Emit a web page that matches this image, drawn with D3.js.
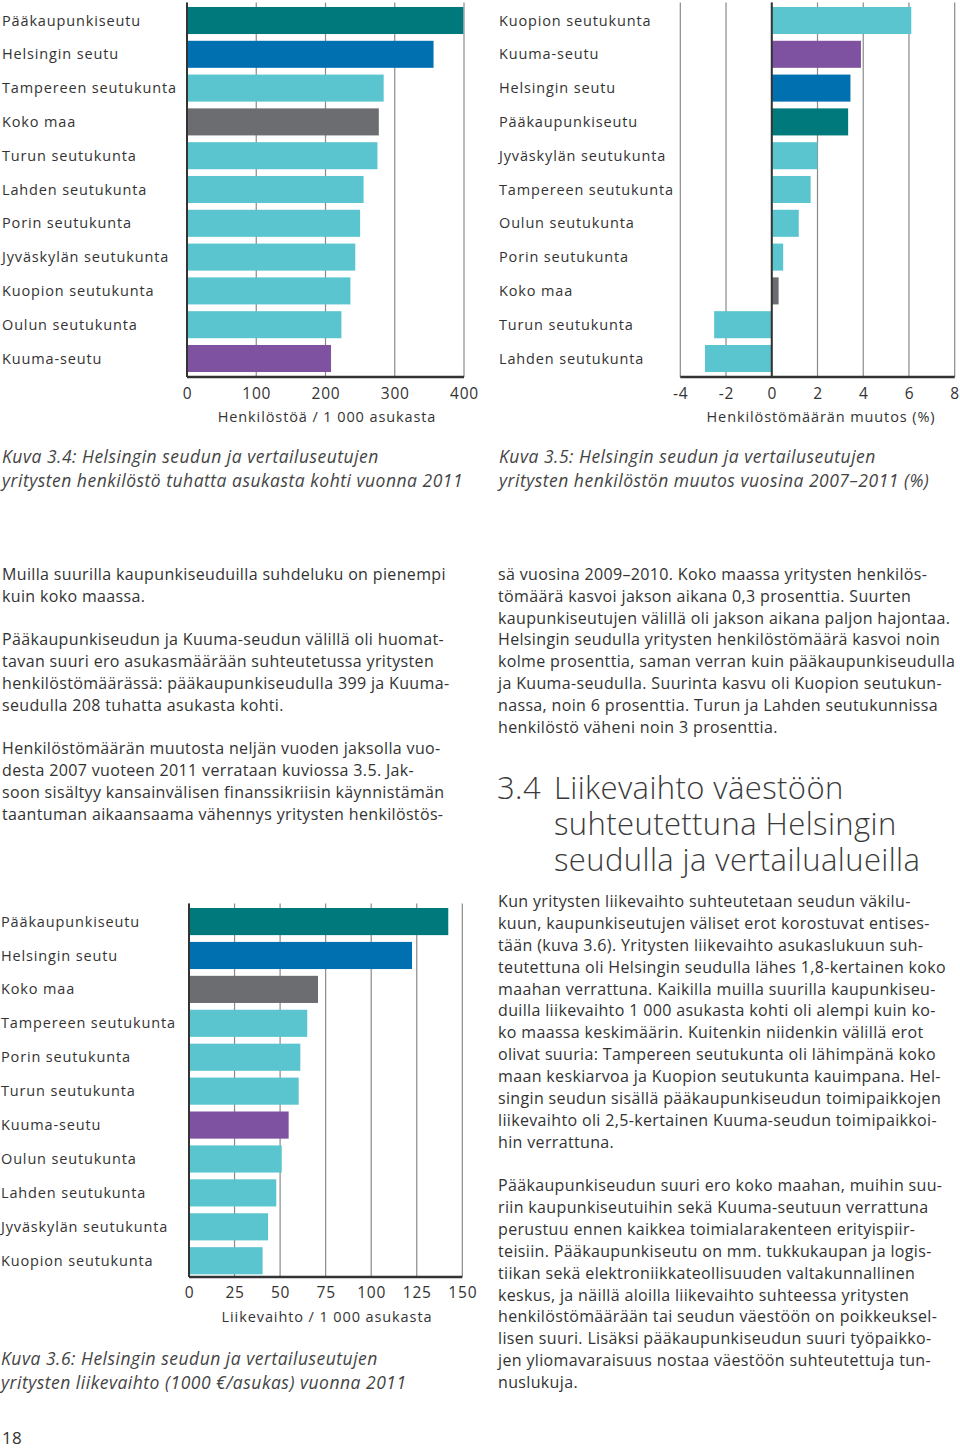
<!DOCTYPE html>
<html><head><meta charset="utf-8">
<script src="https://cdn.jsdelivr.net/npm/d3@7"></script>
<style>
body{margin:0;background:#fff;}
svg{display:block;}
text{font-family:"Open Sans",sans-serif;fill:#333;}
.lbl{font-size:14.5px;letter-spacing:0.85px;}
.tick{font-size:15.5px;letter-spacing:0.8px;}
.ttl{font-size:14.5px;letter-spacing:0.9px;}
.cap{font-size:17.5px;font-style:italic;letter-spacing:0.5px;fill:#444;}
.body{font-size:16px;letter-spacing:0.35px;}
.head{font-size:31px;font-weight:300;fill:#3a3a3a;letter-spacing:0.4px;}
</style></head>
<body>
<script>
// ---------- DATA ----------
const colors = {capital:"#00797c", helsinki:"#0070b0", other:"#5ac5ce", country:"#6c6d70", kuuma:"#7e52a0"};

// Kuva 3.4
const c1Categories = ["Pääkaupunkiseutu","Helsingin seutu","Tampereen seutukunta","Koko maa","Turun seutukunta","Lahden seutukunta","Porin seutukunta","Jyväskylän seutukunta","Kuopion seutukunta","Oulun seutukunta","Kuuma-seutu"];
const c1Values = [399,356,284,277,275,255,250,243,236,223,208];
const c1Ticks = [0,100,200,300,400];
const c1Title = "Henkilöstöä / 1 000 asukasta";

// Kuva 3.5
const c2Categories = ["Kuopion seutukunta","Kuuma-seutu","Helsingin seutu","Pääkaupunkiseutu","Jyväskylän seutukunta","Tampereen seutukunta","Oulun seutukunta","Porin seutukunta","Koko maa","Turun seutukunta","Lahden seutukunta"];
const c2Values = [6.1,3.9,3.44,3.34,2.0,1.7,1.18,0.5,0.3,-2.52,-2.92];
const c2Ticks = [-4,-2,0,2,4,6,8];
const c2Title = "Henkilöstömäärän muutos (%)";

// Kuva 3.6
const c3Categories = ["Pääkaupunkiseutu","Helsingin seutu","Koko maa","Tampereen seutukunta","Porin seutukunta","Turun seutukunta","Kuuma-seutu","Oulun seutukunta","Lahden seutukunta","Jyväskylän seutukunta","Kuopion seutukunta"];
const c3Values = [142.3,122.4,70.8,64.9,61.1,60.2,54.7,50.9,47.9,43.4,40.4];
const c3Ticks = [0,25,50,75,100,125,150];
const c3Title = "Liikevaihto / 1 000 asukasta";

const colorOf = name => name==="Pääkaupunkiseutu"?colors.capital:name==="Helsingin seutu"?colors.helsinki:name==="Koko maa"?colors.country:name==="Kuuma-seutu"?colors.kuuma:colors.other;

const captions = {
  c1:["Kuva 3.4: Helsingin seudun ja vertailuseutujen","yritysten henkilöstö tuhatta asukasta kohti vuonna 2011"],
  c2:["Kuva 3.5: Helsingin seudun ja vertailuseutujen","yritysten henkilöstön muutos vuosina 2007–2011 (%)"],
  c3:["Kuva 3.6: Helsingin seudun ja vertailuseutujen","yritysten liikevaihto (1000 €/asukas) vuonna 2011"]
};

const leftText = [
 [575,"Muilla suurilla kaupunkiseuduilla suhdeluku on pienempi"],
 [597,"kuin koko maassa."],
 [640,"Pääkaupunkiseudun ja Kuuma-seudun välillä oli huomat-"],
 [662,"tavan suuri ero asukasmäärään suhteutetussa yritysten"],
 [684,"henkilöstömäärässä: pääkaupunkiseudulla 399 ja Kuuma-"],
 [706,"seudulla 208 tuhatta asukasta kohti."],
 [749,"Henkilöstömäärän muutosta neljän vuoden jaksolla vuo-"],
 [771,"desta 2007 vuoteen 2011 verrataan kuviossa 3.5. Jak-"],
 [793,"soon sisältyy kansainvälisen finanssikriisin käynnistämän"],
 [815,"taantuman aikaansaama vähennys yritysten henkilöstös-"]
];
const rightText = [
 [575,"sä vuosina 2009–2010. Koko maassa yritysten henkilös-"],
 [597,"tömäärä kasvoi jakson aikana 0,3 prosenttia. Suurten"],
 [619,"kaupunkiseutujen välillä oli jakson aikana paljon hajontaa."],
 [640,"Helsingin seudulla yritysten henkilöstömäärä kasvoi noin"],
 [662,"kolme prosenttia, saman verran kuin pääkaupunkiseudulla"],
 [684,"ja Kuuma-seudulla. Suurinta kasvu oli Kuopion seutukun-"],
 [706,"nassa, noin 6 prosenttia. Turun ja Lahden seutukunnissa"],
 [728,"henkilöstö väheni noin 3 prosenttia."],
 [902,"Kun yritysten liikevaihto suhteutetaan seudun väkilu-"],
 [924,"kuun, kaupunkiseutujen väliset erot korostuvat entises-"],
 [946,"tään (kuva 3.6). Yritysten liikevaihto asukaslukuun suh-"],
 [968,"teutettuna oli Helsingin seudulla lähes 1,8-kertainen koko"],
 [990,"maahan verrattuna. Kaikilla muilla suurilla kaupunkiseu-"],
 [1011,"duilla liikevaihto 1 000 asukasta kohti oli alempi kuin ko-"],
 [1033,"ko maassa keskimäärin. Kuitenkin niidenkin välillä erot"],
 [1055,"olivat suuria: Tampereen seutukunta oli lähimpänä koko"],
 [1077,"maan keskiarvoa ja Kuopion seutukunta kauimpana. Hel-"],
 [1099,"singin seudun sisällä pääkaupunkiseudun toimipaikkojen"],
 [1121,"liikevaihto oli 2,5-kertainen Kuuma-seudun toimipaikkoi-"],
 [1143,"hin verrattuna."],
 [1186,"Pääkaupunkiseudun suuri ero koko maahan, muihin suu-"],
 [1208,"riin kaupunkiseutuihin sekä Kuuma-seutuun verrattuna"],
 [1230,"perustuu ennen kaikkea toimialarakenteen erityispiir-"],
 [1252,"teisiin. Pääkaupunkiseutu on mm. tukkukaupan ja logis-"],
 [1274,"tiikan sekä elektroniikkateollisuuden valtakunnallinen"],
 [1296,"keskus, ja näillä aloilla liikevaihto suhteessa yritysten"],
 [1317,"henkilöstömäärään tai seudun väestöön on poikkeuksel-"],
 [1339,"lisen suuri. Lisäksi pääkaupunkiseudun suuri työpaikko-"],
 [1361,"jen yliomavaraisuus nostaa väestöön suhteutettuja tun-"],
 [1383,"nuslukuja."]
];
const headingNumber = "3.4";
const headingLines = ["Liikevaihto väestöön","suhteutettuna Helsingin","seudulla ja vertailualueilla"];

// ---------- DRAW ----------
const svg = d3.select("body").append("svg").attr("width",960).attr("height",1448);

function barChart(o){
  const g = svg.append("g");
  const x = d3.scaleLinear().domain(o.domain).range(o.xr);
  const y = d3.scaleBand().domain(o.cats).range(o.yr).paddingInner(0.2).paddingOuter(0.1);
  const top = o.yr[0]-1, bottom = o.axisY;
  g.selectAll("line.grid").data(o.ticks).join("line")
    .attr("x1",d=>x(d)).attr("x2",d=>x(d)).attr("y1",top).attr("y2",bottom)
    .attr("stroke","#8a8a8a").attr("stroke-width",1.2);
  g.selectAll("rect").data(o.vals).join("rect")
    .attr("x",d=>x(Math.min(0,d))).attr("width",d=>Math.abs(x(d)-x(0)))
    .attr("y",(d,i)=>y(o.cats[i])).attr("height",y.bandwidth())
    .attr("fill",(d,i)=>colorOf(o.cats[i]));
  g.append("line").attr("x1",x(0)).attr("x2",x(0)).attr("y1",top).attr("y2",bottom)
    .attr("stroke","#333").attr("stroke-width",2);
  const ax = g.append("g").attr("transform",`translate(0,${o.axisY})`)
    .call(d3.axisBottom(x).tickValues(o.ticks).tickSize(0).tickPadding(0).tickFormat(d=>d<0?"-"+Math.abs(d):d));
  ax.select(".domain").attr("stroke","#333").attr("stroke-width",2.5).attr("d",`M${o.xr[0]},0H${o.xr[1]}`);
  ax.selectAll("text").attr("class","tick").attr("dy",null).attr("y",o.tickDy).attr("fill","#333");
  ax.attr("font-family",null).attr("font-size",null);
  g.append("text").attr("class","ttl").attr("x",o.titleX).attr("y",o.axisY+o.titleDy).attr("text-anchor","middle").text(o.title);
  g.selectAll("text.lbl").data(o.cats).join("text").attr("class","lbl")
    .attr("x",o.labelX).attr("y",d=>y(d)+y.bandwidth()/2).attr("dy","0.35em").text(d=>d);
  o.caption.forEach((t,i)=>g.append("text").attr("class","cap").attr("x",o.labelX).attr("y",o.capY+i*23.5).text(t));
}

barChart({cats:c1Categories, vals:c1Values, domain:[0,400], ticks:c1Ticks, xr:[187,464], yr:[3.6,375.4], axisY:377, tickDy:22, titleDy:45, titleX:327, title:c1Title, labelX:2, caption:captions.c1, capY:463});
barChart({cats:c2Categories, vals:c2Values, domain:[-4,8], ticks:c2Ticks, xr:[680.3,954.7], yr:[3.6,375.4], axisY:377, tickDy:22, titleDy:45, titleX:821, title:c2Title, labelX:499, caption:captions.c2, capY:463});
barChart({cats:c3Categories, vals:c3Values, domain:[0,150], ticks:c3Ticks, xr:[189,462.3], yr:[904.6,1277.7], axisY:1277, tickDy:21, titleDy:45, titleX:327, title:c3Title, labelX:1, caption:captions.c3, capY:1365});

leftText.forEach(([yy,t])=>svg.append("text").attr("class","body").attr("x",2).attr("y",yy+5).text(t));
rightText.forEach(([yy,t])=>svg.append("text").attr("class","body").attr("x",498).attr("y",yy+5).text(t));
svg.append("text").attr("class","head").attr("x",497).attr("y",799).text(headingNumber);
const ht = svg.append("text").attr("class","head").attr("x",554).attr("y",799);
headingLines.forEach((t,i)=>ht.append("tspan").attr("x",554).attr("dy",i?36:0).text(t));
svg.append("text").attr("class","body").attr("x",2).attr("y",1444).style("font-size","17px").text("18");
</script>
</body></html>
